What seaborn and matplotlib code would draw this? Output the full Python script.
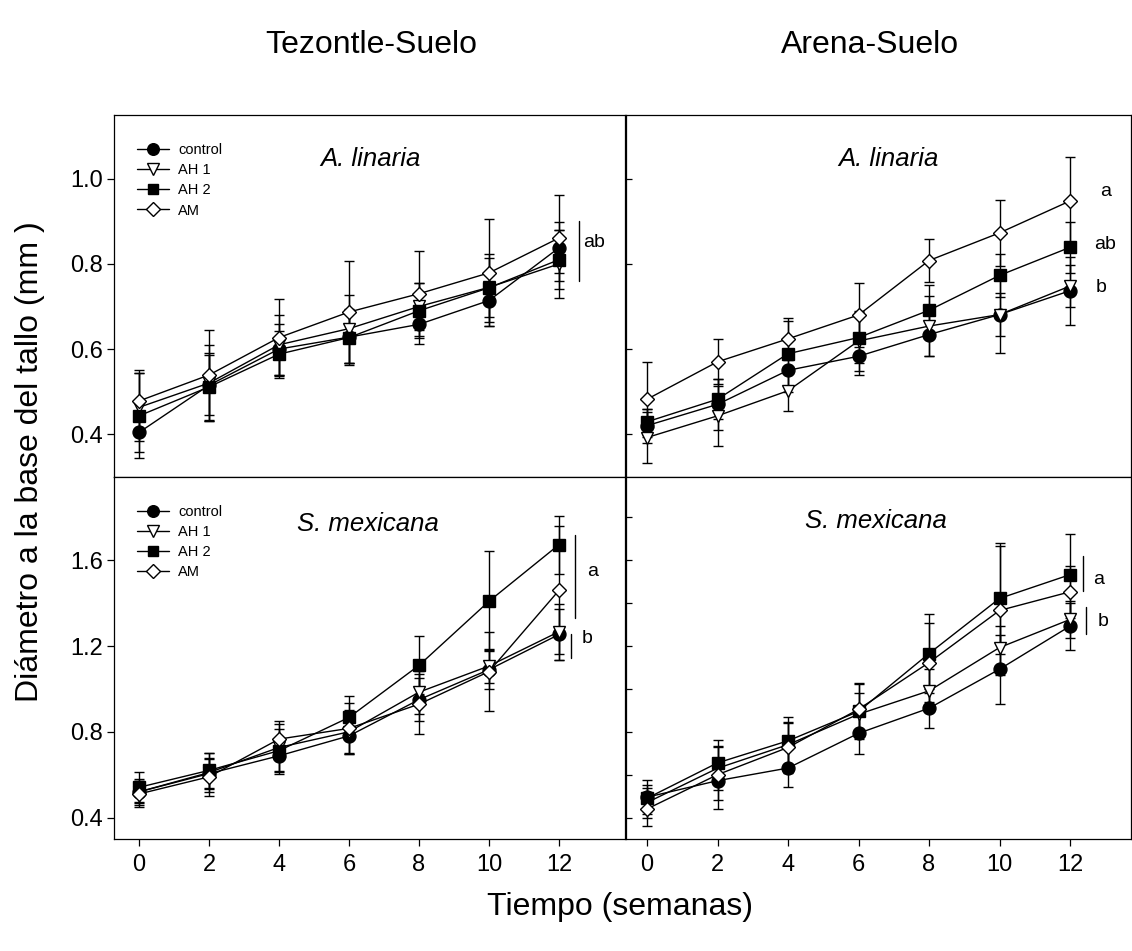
import numpy as np
import pandas as pd
import matplotlib
matplotlib.use("Agg")
import matplotlib.pyplot as plt
import seaborn as sns
from matplotlib.lines import Line2D

weeks = [0, 2, 4, 6, 8, 10, 12]
treatments = ["control", "AH 1", "AH 2", "AM"]

# Tezontle-Suelo, A. linaria
tl_control = [0.404, 0.515, 0.600, 0.628, 0.658, 0.714, 0.838]
tl_ah1 = [0.463, 0.520, 0.610, 0.648, 0.700, 0.745, 0.800]
tl_ah2 = [0.443, 0.511, 0.588, 0.627, 0.690, 0.744, 0.810]
tl_am = [0.478, 0.539, 0.627, 0.687, 0.730, 0.779, 0.861]
tl_control_err = [0.047, 0.070, 0.060, 0.065, 0.045, 0.060, 0.060]
tl_ah1_err = [0.080, 0.090, 0.070, 0.080, 0.055, 0.070, 0.080]
tl_ah2_err = [0.100, 0.080, 0.055, 0.060, 0.065, 0.080, 0.070]
tl_am_err = [0.073, 0.105, 0.090, 0.120, 0.100, 0.126, 0.100]

# Arena-Suelo, A. linaria
tr_control = [0.420, 0.470, 0.550, 0.583, 0.634, 0.681, 0.737]
tr_ah1 = [0.392, 0.443, 0.502, 0.619, 0.654, 0.681, 0.748]
tr_ah2 = [0.429, 0.482, 0.589, 0.627, 0.691, 0.773, 0.839]
tr_am = [0.482, 0.570, 0.624, 0.680, 0.808, 0.873, 0.948]
tr_control_err = [0.040, 0.060, 0.050, 0.044, 0.050, 0.090, 0.080]
tr_ah1_err = [0.060, 0.070, 0.047, 0.070, 0.070, 0.050, 0.050]
tr_ah2_err = [0.030, 0.047, 0.077, 0.060, 0.060, 0.050, 0.060]
tr_am_err = [0.088, 0.053, 0.049, 0.076, 0.051, 0.078, 0.103]

# Tezontle-Suelo, S. mexicana
bl_control = [0.520, 0.605, 0.688, 0.781, 0.950, 1.090, 1.254]
bl_ah1 = [0.520, 0.610, 0.727, 0.800, 0.985, 1.107, 1.267]
bl_ah2 = [0.541, 0.620, 0.712, 0.867, 1.110, 1.409, 1.673]
bl_am = [0.510, 0.590, 0.766, 0.816, 0.929, 1.081, 1.460]
bl_control_err = [0.060, 0.070, 0.085, 0.085, 0.100, 0.090, 0.120]
bl_ah1_err = [0.050, 0.090, 0.110, 0.100, 0.100, 0.080, 0.130]
bl_ah2_err = [0.070, 0.080, 0.100, 0.100, 0.135, 0.233, 0.135]
bl_am_err = [0.060, 0.090, 0.085, 0.120, 0.140, 0.186, 0.298]

# Arena-Suelo, S. mexicana
br_control = [0.495, 0.572, 0.631, 0.793, 0.910, 1.092, 1.293]
br_ah1 = [0.470, 0.630, 0.740, 0.882, 0.991, 1.193, 1.324]
br_ah2 = [0.490, 0.655, 0.758, 0.895, 1.165, 1.422, 1.533]
br_am = [0.440, 0.600, 0.727, 0.905, 1.123, 1.366, 1.453]
br_control_err = [0.080, 0.090, 0.090, 0.097, 0.090, 0.160, 0.110]
br_ah1_err = [0.070, 0.100, 0.100, 0.100, 0.100, 0.100, 0.085]
br_ah2_err = [0.060, 0.080, 0.110, 0.130, 0.185, 0.260, 0.190]
br_am_err = [0.080, 0.160, 0.120, 0.125, 0.186, 0.300, 0.120]

col_titles = ["Tezontle-Suelo", "Arena-Suelo"]
species = ["A. linaria", "S. mexicana"]
y_label = "Diámetro a la base del tallo (mm )"
x_label = "Tiempo (semanas)"

sns.set_theme(style="white")
plt.rcParams["font.family"] = ["Liberation Sans", "DejaVu Sans"]
plt.rcParams["axes.linewidth"] = 0.9
plt.rcParams["text.color"] = "black"
plt.rcParams["axes.labelcolor"] = "black"
plt.rcParams["xtick.color"] = "black"
plt.rcParams["ytick.color"] = "black"

W, H = 1132, 951
fig = plt.figure(figsize=(W / 100, H / 100), dpi=100)


def ax_at(l, t, r, b):
    return fig.add_axes([l / W, 1 - b / H, (r - l) / W, (b - t) / H])


styles = {
    "control": dict(marker="o", markerfacecolor="black", markersize=9.3),
    "AH 1": dict(marker="v", markerfacecolor="white", markersize=9.3),
    "AH 2": dict(marker="s", markerfacecolor="black", markersize=8.5),
    "AM": dict(marker="D", markerfacecolor="white", markersize=7.5),
}

panels = [
    dict(box=(114.3, 115, 625.5, 476.7), vals=[tl_control, tl_ah1, tl_ah2, tl_am],
         errs=[tl_control_err, tl_ah1_err, tl_ah2_err, tl_am_err],
         xlim=(-0.706, 13.9), ylim=(0.3, 1.15), left=True, bottom=False,
         yt=[0.4, 0.6, 0.8, 1.0], sp=species[0], spxy=(6.61, 1.047), leg=True),
    dict(box=(625.5, 115, 1131, 476.7), vals=[tr_control, tr_ah1, tr_ah2, tr_am],
         errs=[tr_control_err, tr_ah1_err, tr_ah2_err, tr_am_err],
         xlim=(-0.61, 13.73), ylim=(0.3, 1.15), left=False, bottom=False,
         yt=[0.4, 0.6, 0.8, 1.0], sp=species[0], spxy=(6.84, 1.047), leg=False),
    dict(box=(114.3, 476.7, 625.5, 839), vals=[bl_control, bl_ah1, bl_ah2, bl_am],
         errs=[bl_control_err, bl_ah1_err, bl_ah2_err, bl_am_err],
         xlim=(-0.706, 13.9), ylim=(0.3, 1.99), left=True, bottom=True,
         yt=[0.4, 0.8, 1.2, 1.6], sp=species[1], spxy=(6.53, 1.77), leg=True),
    dict(box=(625.5, 476.7, 1131, 839), vals=[br_control, br_ah1, br_ah2, br_am],
         errs=[br_control_err, br_ah1_err, br_ah2_err, br_am_err],
         xlim=(-0.61, 13.73), ylim=(0.3, 1.99), left=False, bottom=True,
         yt=[0.4, 0.6, 0.8, 1.0, 1.2, 1.4, 1.6, 1.8], sp=species[1], spxy=(6.49, 1.785), leg=False),
]

axes = []
for p in panels:
    ax = ax_at(*p["box"])
    axes.append(ax)
    for v, e in zip(p["vals"], p["errs"]):
        ax.errorbar(weeks, v, yerr=e, fmt="none", ecolor="black", elinewidth=1.0,
                    capsize=3.6, capthick=1.0, zorder=2)
    for t, v in zip(treatments, p["vals"]):
        df = pd.DataFrame({"week": weeks, "val": v})
        sns.lineplot(data=df, x="week", y="val", ax=ax, color="black", linewidth=1.0,
                     markeredgecolor="black", markeredgewidth=1.0, zorder=3,
                     legend=False, **styles[t])
    ax.set_xlim(*p["xlim"])
    ax.set_ylim(*p["ylim"])
    ax.set_xlabel("")
    ax.set_ylabel("")
    for s in ax.spines.values():
        s.set_color("black")
        s.set_linewidth(0.9)
    ax.set_yticks(p["yt"])
    if p["left"]:
        ax.set_yticklabels([f"{y:.1f}" for y in p["yt"]])
        ax.tick_params(axis="y", direction="out", length=5, width=0.9, labelsize=17,
                       left=True, pad=3)
    else:
        ax.tick_params(axis="y", direction="in", length=4, width=0.9, left=True,
                       labelleft=False)
    if p["bottom"]:
        ax.set_xticks(weeks)
        ax.set_xticklabels([str(w) for w in weeks])
        ax.tick_params(axis="x", direction="out", length=5, width=0.9, labelsize=17,
                       bottom=True, pad=6)
    else:
        ax.set_xticks([])
    ax.text(p["spxy"][0], p["spxy"][1], p["sp"], style="italic", fontsize=18.5,
            ha="center", va="center")
    if p["leg"]:
        handles = [Line2D([], [], color="black", linewidth=1.0, markeredgecolor="black",
                          markeredgewidth=1.0, **{k: (val * 0.9 if k == "markersize" else val)
                                                   for k, val in styles[t].items()})
                   for t in treatments]
        ax.legend(handles, treatments, loc="upper left", bbox_to_anchor=(0.045, 0.922),
                  frameon=False, fontsize=10.5, handlelength=2.2, handletextpad=0.6,
                  labelspacing=0.42, borderaxespad=0, borderpad=0)

ax_tl, ax_tr, ax_bl, ax_br = axes

# significance annotations
ax_tl.plot([12.58, 12.58], [0.76, 0.90], color="black", lw=1.0)
ax_tl.text(12.68, 0.85, "ab", fontsize=14, ha="left", va="center")

ax_tr.text(13.0, 0.97, "a", fontsize=14, ha="center", va="center")
ax_tr.text(13.0, 0.845, "ab", fontsize=14, ha="center", va="center")
ax_tr.text(12.88, 0.744, "b", fontsize=14, ha="center", va="center")

ax_bl.plot([12.45, 12.45], [1.33, 1.72], color="black", lw=1.0)
ax_bl.text(12.96, 1.55, "a", fontsize=14, ha="center", va="center")
ax_bl.plot([12.35, 12.35], [1.146, 1.254], color="black", lw=1.0)
ax_bl.text(12.8, 1.234, "b", fontsize=14, ha="center", va="center")

ax_br.plot([12.36, 12.36], [1.456, 1.62], color="black", lw=1.0)
ax_br.text(12.81, 1.51, "a", fontsize=14, ha="center", va="center")
ax_br.plot([12.45, 12.45], [1.254, 1.38], color="black", lw=1.0)
ax_br.text(12.94, 1.316, "b", fontsize=14, ha="center", va="center")

fig.text(371 / W, 1 - 45 / H, col_titles[0], ha="center", va="center", fontsize=23)
fig.text(870 / W, 1 - 45 / H, col_titles[1], ha="center", va="center", fontsize=23)
fig.text(30 / W, 1 - 462 / H, y_label, rotation=90, ha="center", va="center", fontsize=23)
fig.text(620 / W, 1 - 907 / H, x_label, ha="center", va="center", fontsize=23)

fig.savefig("out.png", dpi=100)
